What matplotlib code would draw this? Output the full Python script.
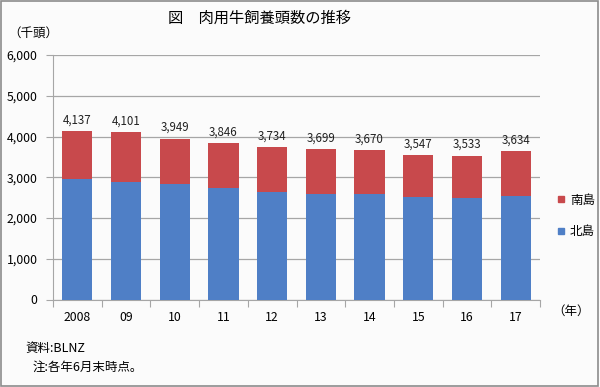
import matplotlib
matplotlib.use("Agg")
import matplotlib.pyplot as plt
from matplotlib.patches import Rectangle
from matplotlib.lines import Line2D

plt.rcParams['font.family'] = ['Noto Sans CJK JP', 'DejaVu Sans']

years = ["2008", "09", "10", "11", "12", "13", "14", "15", "16", "17"]
totals = [4137, 4101, 3949, 3846, 3734, 3699, 3670, 3547, 3533, 3634]
north = [2950, 2880, 2825, 2725, 2642, 2595, 2595, 2505, 2480, 2537]
south = [t - n for t, n in zip(totals, north)]

blue = "#4f7fc6"
red = "#c8494c"
grid_c = "#a6a6a6"

fig = plt.figure(figsize=(6.0, 3.87), dpi=100)
fig.patch.set_facecolor("#fbfbfb")
fig.add_artist(Rectangle((0.002, 0.003), 0.995, 0.994, transform=fig.transFigure,
                         fill=False, edgecolor="#8c8c8c", linewidth=1.2))

ax = fig.add_axes([53/600, 1-299.5/387, (540-53)/600, (299.5-55)/387])
ax.set_facecolor("none")
x = list(range(len(years)))
ax.bar(x, north, width=0.62, color=blue, zorder=3)
ax.bar(x, south, width=0.62, bottom=north, color=red, zorder=3)
for xi, t in zip(x, totals):
    ax.text(xi, t + 110, f"{t:,}", ha="center", va="bottom", fontsize=8.3, color="#222222")

ax.set_xlim(-0.5, len(years) - 0.5)
ax.set_ylim(0, 6000)
ax.set_yticks(range(0, 6001, 1000))
ax.set_yticklabels([f"{v:,}" for v in range(0, 6001, 1000)], fontsize=8.8)
ax.yaxis.grid(True, color=grid_c, linewidth=0.9, zorder=0)
ax.set_axisbelow(True)
ax.set_xticks([i - 0.5 for i in range(len(years) + 1)])
ax.set_xticklabels([])
ax.set_xticks(x, minor=True)
ax.set_xticklabels(years, minor=True, fontsize=8.8)
ax.tick_params(axis="x", which="minor", length=0, pad=8)
ax.tick_params(axis="x", which="major", length=5, color=grid_c, direction="out")
ax.tick_params(axis="y", length=5, color=grid_c, pad=6)
for s in ["top", "right"]:
    ax.spines[s].set_visible(False)
ax.spines["left"].set_color(grid_c)
ax.spines["bottom"].set_color(grid_c)

fig.text(260/600, 1-18/387, "図　肉用牛飼養頭数の推移", ha="center", va="center", fontsize=11)
fig.text(8/600, 1-33/387, "（千頭）", ha="left", va="center", fontsize=9)
fig.text(552/600, 1-311/387, "（年）", ha="left", va="center", fontsize=9)
fig.text(25/600, 1-348/387, "資料:BLNZ", ha="left", va="center", fontsize=9)
fig.text(33/600, 1-367/387, "注:各年6月末時点。", ha="left", va="center", fontsize=9)

handles = [Line2D([], [], marker="s", linestyle="none", markersize=5, color=red),
           Line2D([], [], marker="s", linestyle="none", markersize=5, color=blue)]
fig.legend(handles, ["南島", "北島"], loc="center left", bbox_to_anchor=(545/600, 1-216/387),
           frameon=False, fontsize=9, handlelength=0.8, handletextpad=0.3, labelspacing=1.5)

fig.savefig("out.png", dpi=100, facecolor=fig.get_facecolor())
